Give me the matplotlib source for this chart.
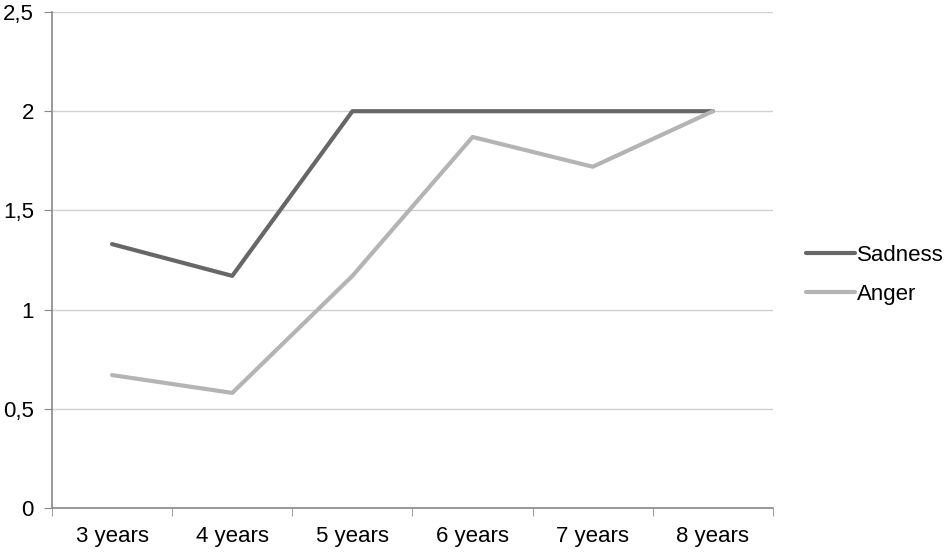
import matplotlib.pyplot as plt
import numpy as np

ages = ["3 years", "4 years", "5 years", "6 years", "7 years", "8 years"]
sadness = [1.33, 1.17, 2.0, 2.0, 2.0, 2.0]
anger = [0.67, 0.58, 1.17, 1.87, 1.72, 2.0]

plt.rcParams["font.family"] = ["Liberation Sans", "DejaVu Sans"]

fig = plt.figure(figsize=(9.51, 5.52), dpi=100)
ax = fig.add_axes([52 / 951, 1 - 508 / 552, (773 - 52) / 951, (508 - 12) / 552])

x = np.arange(len(ages))
ax.plot(x, sadness, color="#676767", linewidth=3, label="Sadness", solid_capstyle="round", zorder=3)
ax.plot(x, anger, color="#b4b4b4", linewidth=3, label="Anger", solid_capstyle="round", zorder=3)

ax.set_xlim(-0.5, len(ages) - 0.5)
ax.set_ylim(0, 2.5)
yt = [0, 0.5, 1, 1.5, 2, 2.5]
ax.set_yticks(yt)
ax.set_yticklabels([f"{v:g}".replace(".", ",") for v in yt], fontsize=16)
ax.set_xticks(x)
ax.set_xticklabels(ages, fontsize=16)
ax.set_xticks(np.arange(-0.5, len(ages)), minor=True)
ax.tick_params(axis="x", which="major", length=0, pad=13)
ax.tick_params(axis="x", which="minor", length=6, color="#888888", direction="out")
ax.tick_params(axis="y", length=6, color="#888888", pad=7)

ax.yaxis.grid(True, color="#d0d0d0", linewidth=1)
ax.set_axisbelow(True)
for s in ["top", "right"]:
    ax.spines[s].set_visible(False)
for s in ["left", "bottom"]:
    ax.spines[s].set_color("#888888")
    ax.spines[s].set_linewidth(1.2)

fig.legend(loc="center left", bbox_to_anchor=(806 / 951, 1 - 275 / 552), frameon=False,
           fontsize=16, handlelength=2.2, handletextpad=0.1, labelspacing=0.8,
           borderpad=0, borderaxespad=0)

fig.savefig("out.png", dpi=100)
